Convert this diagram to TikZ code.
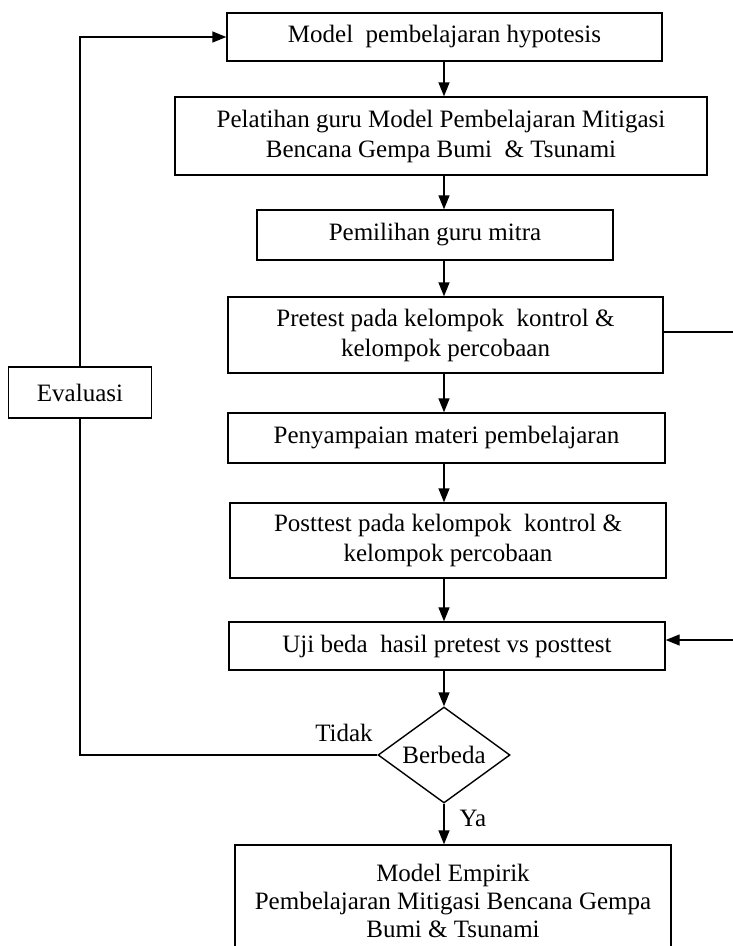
\documentclass[tikz,border=0pt]{standalone}
\usepackage{fontspec}
\setmainfont{Liberation Serif}
\usetikzlibrary{arrows.meta,shapes.geometric}
\begin{document}
\begin{tikzpicture}[x=1pt,y=-1pt,
  box/.style={draw,line width=1.4pt,align=center,inner sep=0pt,
    font=\fontsize{25}{30}\selectfont},
  arr/.style={line width=1.4pt,-{Triangle[length=14pt,width=11pt]}},
  ln/.style={line width=1.4pt},
  lbl/.style={font=\fontsize{25}{30}\selectfont}]
\useasboundingbox (0,0) rectangle (732,946);
\node[box,minimum width=435pt,minimum height=48pt] (b1) at (444.5,37) {Model\ \ pembelajaran hypotesis};
\node[box,minimum width=532pt,minimum height=78pt] (b2) at (441,136) {Pelatihan guru Model Pembelajaran Mitigasi\\Bencana Gempa Bumi\ \ \& Tsunami};
\node[box,minimum width=356pt,minimum height=50pt] (b3) at (435,235) {Pemilihan guru mitra};
\node[box,minimum width=435pt,minimum height=76pt] (b4) at (445.5,335) {Pretest pada kelompok\ \ kontrol \&\\kelompok percobaan};
\node[box,minimum width=437pt,minimum height=50pt] (b5) at (446.5,438) {Penyampaian materi pembelajaran};
\node[box,minimum width=436pt,minimum height=75pt] (b6) at (448,540.5) {Posttest pada kelompok\ \ kontrol \&\\kelompok percobaan};
\node[box,minimum width=436pt,minimum height=48pt] (b7) at (447,646) {Uji beda\ \ hasil pretest vs posttest};
\node[draw,line width=1.4pt,diamond,aspect=1.35,minimum width=132pt,minimum height=96pt,inner sep=0pt,
  font=\fontsize{25}{30}\selectfont] (dia) at (444,755) {Berbeda};
\node[box,minimum width=436pt,minimum height=118pt,text depth=6pt,font=\fontsize{25}{28}\selectfont] (b8) at (453,904) {Model Empirik\\Pembelajaran Mitigasi Bencana Gempa\\Bumi \& Tsunami};
\node[box,minimum width=143pt,minimum height=51pt] (ev) at (80,392.5) {Evaluasi};
\node[lbl] (tidak) at (344,733) {Tidak};
\node[lbl] (ya) at (473,818) {Ya};
\coordinate (r1) at (740,332);
\coordinate (r2) at (740,640);
\draw[arr] (b1.south -| dia) -- (b2.north -| dia);
\draw[arr] (b2.south -| dia) -- (b3.north -| dia);
\draw[arr] (b3.south -| dia) -- (b4.north -| dia);
\draw[arr] (b4.south -| dia) -- (b5.north -| dia);
\draw[arr] (b5.south -| dia) -- (b6.north -| dia);
\draw[arr] (b6.south -| dia) -- (b7.north -| dia);
\draw[arr] (b7.south -| dia) -- (dia.north);
\draw[arr] (dia.south) -- (b8.north -| dia);
\draw[ln] (dia.west) -| (ev.south);
\draw[arr] (ev.north) |- (b1.west);
\draw[ln] (b4.east |- r1) -- (r1) -- (r2);
\draw[arr] (r2) -- (b7.east |- r2);
\end{tikzpicture}
\end{document}
